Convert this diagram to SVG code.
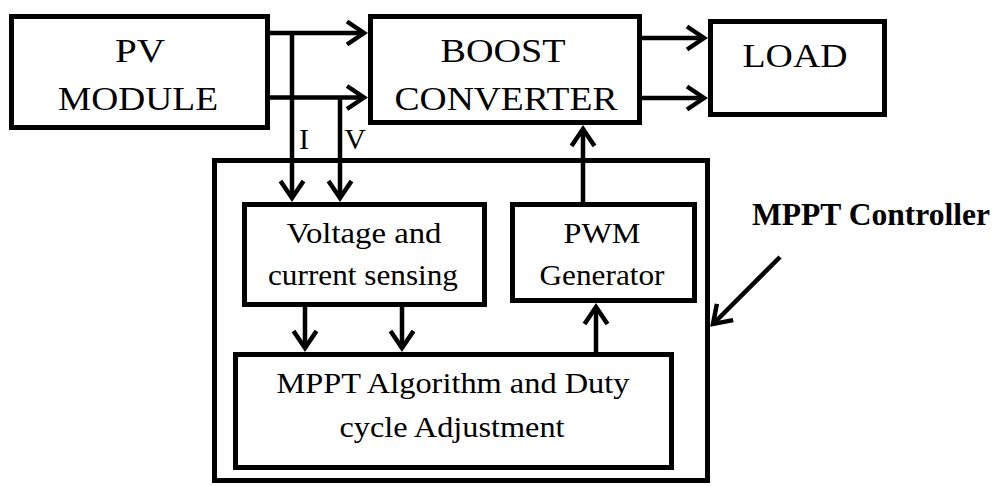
<svg xmlns="http://www.w3.org/2000/svg" width="993" height="486" viewBox="0 0 993 486">
<defs>
<style>
.box{fill:#fff;stroke:#000;stroke-width:5}
.ln{fill:none;stroke:#000;stroke-width:4.5;marker-end:url(#ah)}
.t{font-family:"Liberation Serif","Times New Roman",serif;fill:#000;text-anchor:middle}
.big{font-size:33px}
.mid{font-size:30px}
.bold{font-size:31px;font-weight:bold;text-anchor:start}
</style>
<marker id="ah" markerUnits="userSpaceOnUse" viewBox="-22 -15 28 30" markerWidth="28" markerHeight="30" refX="0" refY="0" orient="auto" overflow="visible">
<path d="M-17,-11.5 L0,0 L-17,11.5" fill="none" stroke="#000" stroke-width="4.5" stroke-linejoin="miter"/>
</marker>
</defs>
<rect width="993" height="486" fill="#fff"/>

<g id="mppt-controller">
<rect class="box" x="214.5" y="160.5" width="493" height="320"/>
<text class="t bold" x="752" y="225" textLength="238" lengthAdjust="spacingAndGlyphs">MPPT Controller</text>
</g>

<g id="pv-module">
<rect class="box" x="11.5" y="16.5" width="256" height="111"/>
<text class="t big" x="140" y="62" textLength="50" lengthAdjust="spacingAndGlyphs">PV</text>
<text class="t big" x="138" y="110" textLength="160" lengthAdjust="spacingAndGlyphs">MODULE</text>
</g>

<g id="boost-converter">
<rect class="box" x="370.5" y="16.5" width="269" height="106"/>
<text class="t big" x="503" y="62" textLength="125" lengthAdjust="spacingAndGlyphs">BOOST</text>
<text class="t big" x="506" y="110" textLength="223" lengthAdjust="spacingAndGlyphs">CONVERTER</text>
</g>

<g id="load">
<rect class="box" x="710.5" y="21.5" width="174" height="93"/>
<text class="t big" x="795" y="67" textLength="105" lengthAdjust="spacingAndGlyphs">LOAD</text>
</g>

<g id="sensing">
<rect class="box" x="244.5" y="204.5" width="240" height="100"/>
<text class="t mid" x="364" y="243" textLength="155" lengthAdjust="spacingAndGlyphs">Voltage and</text>
<text class="t mid" x="363" y="285" textLength="190" lengthAdjust="spacingAndGlyphs">current sensing</text>
</g>

<g id="pwm">
<rect class="box" x="512.5" y="204.5" width="182" height="96"/>
<text class="t mid" x="602" y="243" textLength="77" lengthAdjust="spacingAndGlyphs">PWM</text>
<text class="t mid" x="602" y="285" textLength="125" lengthAdjust="spacingAndGlyphs">Generator</text>
</g>

<g id="mppt-algorithm">
<rect class="box" x="235.5" y="354.5" width="436" height="113"/>
<text class="t mid" x="453" y="393" textLength="353" lengthAdjust="spacingAndGlyphs">MPPT Algorithm and Duty</text>
<text class="t mid" x="452" y="437" textLength="225" lengthAdjust="spacingAndGlyphs">cycle Adjustment</text>
</g>

<g id="connectors">
<path class="ln" d="M268,33 H364"/>
<path class="ln" d="M268,97.5 H364"/>
<path class="ln" d="M642,38 H704"/>
<path class="ln" d="M642,98 H704"/>
<path class="ln" d="M292,33 V198"/>
<path class="ln" d="M340,97.5 V198"/>
<path class="ln" d="M305,307 V348"/>
<path class="ln" d="M402,307 V348"/>
<path class="ln" d="M596,352 V307"/>
<path class="ln" d="M583,202 V129"/>
<path class="ln" d="M780,257 L713,324"/>
<text class="t mid" x="304" y="149">I</text>
<text class="t mid" x="355" y="149">V</text>
</g>
</svg>
